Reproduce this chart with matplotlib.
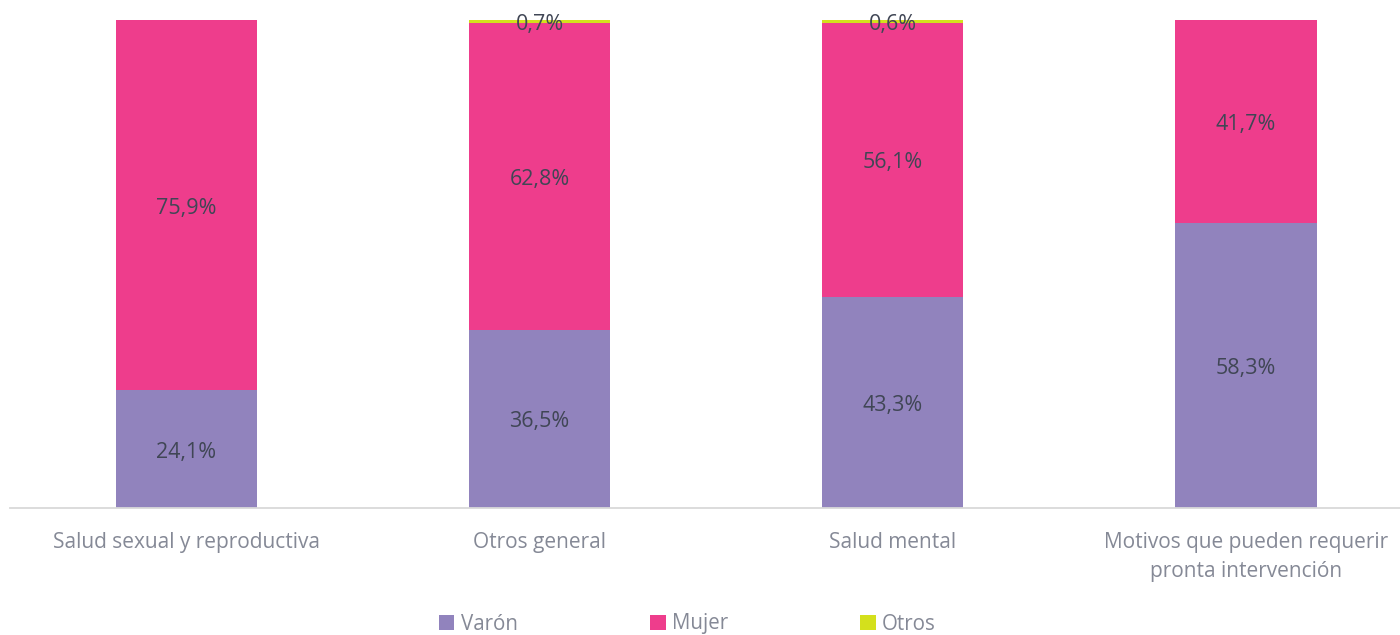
import numpy as np
import matplotlib.pyplot as plt

plt.rcParams['font.family'] = ['Open Sans', 'DejaVu Sans']

categories = ["Salud sexual y reproductiva", "Otros general", "Salud mental",
              "Motivos que pueden requerir\npronta intervención"]
varon = [24.1, 36.5, 43.3, 58.3]
mujer = [75.9, 62.8, 56.1, 41.7]
otros = [0.0, 0.7, 0.6, 0.0]

series = [("Varón", varon, "#9183BD"),
          ("Mujer", mujer, "#EE3D8C"),
          ("Otros", otros, "#D4E01C")]

fig = plt.figure(figsize=(14, 6.35), dpi=100)
ax = fig.add_axes([10 / 1400, 1 - 508 / 635, 1390 / 1400, 488 / 635])

x = np.arange(len(categories))
bottom = np.zeros(len(categories))
for name, vals, color in series:
    vals = np.array(vals)
    ax.bar(x, vals, width=0.4, bottom=bottom, color=color, label=name)
    for xi, b, v in zip(x, bottom, vals):
        if v > 0:
            ax.annotate(f"{v:.1f}%".replace(".", ","), (xi, b + v / 2),
                        xytext=(0, -3), textcoords="offset pixels",
                        ha="center", va="center", fontsize=15.5, color="#404655",
                        annotation_clip=False)
    bottom += vals

ax.set_xlim(-0.499, 3.436)
ax.set_ylim(0, 100)
ax.set_yticks([])
for s in ["top", "right", "left"]:
    ax.spines[s].set_visible(False)
ax.spines["bottom"].set_color("#D9D9D9")
ax.spines["bottom"].set_linewidth(1.3)
ax.set_xticks(x)
ax.set_xticklabels(categories, fontsize=15, color="#858996", linespacing=1.5)
ax.tick_params(axis="x", length=0, pad=17)

fig.legend(loc="center", bbox_to_anchor=(0.491, 1 - 624 / 635), ncol=3, frameon=False,
           fontsize=14.8, labelcolor="#858996", handlelength=0.75, handleheight=0.75,
           handletextpad=0.3, columnspacing=6.45)

fig.savefig("out.png", dpi=100)
